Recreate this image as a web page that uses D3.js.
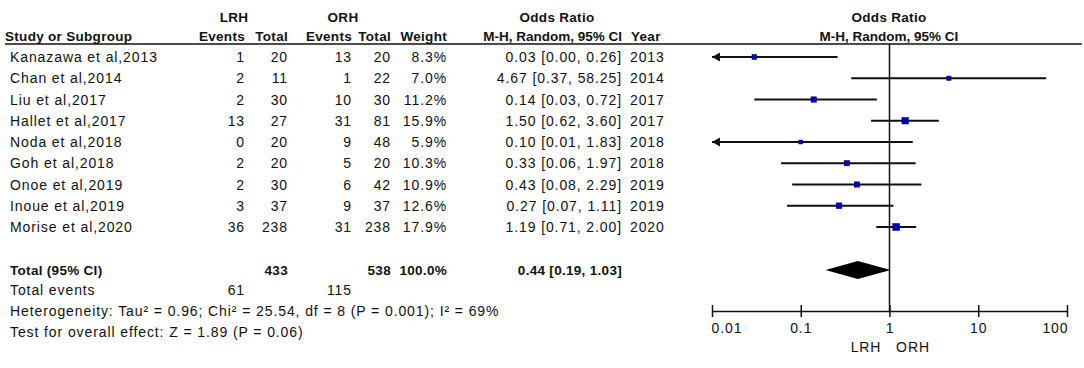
<!DOCTYPE html>
<html><head><meta charset="utf-8">
<script src="https://cdn.jsdelivr.net/npm/d3@7"></script>
<style>
body{margin:0;background:#fff;}
text{font-family:"Liberation Sans",Arial,sans-serif;font-size:14px;fill:#111;}
.b{font-weight:bold;font-size:13.5px;letter-spacing:0.3px;}
.bn{font-weight:bold;font-size:13.5px;letter-spacing:0px;}
.r{letter-spacing:0.9px;}
</style></head><body>
<svg id="c" width="1084" height="368"></svg>
<script>
const studies=["Kanazawa et al,2013","Chan et al,2014","Liu et al,2017","Hallet et al,2017","Noda et al,2018","Goh et al,2018","Onoe et al,2019","Inoue et al,2019","Morise et al,2020"];
const lrhEvents=[1,2,2,13,0,2,2,3,36];
const lrhTotal=[20,11,30,27,20,20,30,37,238];
const orhEvents=[13,1,10,31,9,5,6,9,31];
const orhTotal=[20,22,30,81,48,20,42,37,238];
const weights=[8.3,7.0,11.2,15.9,5.9,10.3,10.9,12.6,17.9];
const orVal=[0.03,4.67,0.14,1.50,0.10,0.33,0.43,0.27,1.19];
const ciLow=[0.00,0.37,0.03,0.62,0.01,0.06,0.08,0.07,0.71];
const ciHigh=[0.26,58.25,0.72,3.60,1.83,1.97,2.29,1.11,2.00];
const years=[2013,2014,2017,2017,2018,2018,2019,2019,2020];
const total={lrhTotal:433,orhTotal:538,weight:"100.0%",or:0.44,lo:0.19,hi:1.03,lrhEvents:61,orhEvents:115};
const ticks=[0.01,0.1,1,10,100];
const tickLabels=["0.01","0.1","1","10","100"];
const footLines=["Heterogeneity: Tau\u00b2 = 0.96; Chi\u00b2 = 25.54, df = 8 (P = 0.001); I\u00b2 = 69%","Test for overall effect: Z = 1.89 (P = 0.06)"];

const svg=d3.select("#c");
const x=d3.scaleLog().domain([0.01,100]).range([712,1067]);
const y=d3.scaleLinear().domain([0,8]).range([57,227]);
const f2=d3.format(".2f"), f1=d3.format(".1f");
const off=5;

function t(xp,yp,s,anchor,cls){return svg.append("text").attr("x",xp).attr("y",yp).attr("text-anchor",anchor||"start").attr("class",cls||"").text(s);}
t(234,22,"LRH","middle","b");
t(343,22,"ORH","middle","b");
t(557,22,"Odds Ratio","middle","b");
t(889,22,"Odds Ratio","middle","b");
t(5,41,"Study or Subgroup","start","b");
t(245,41,"Events","end","b");
t(288,41,"Total","end","b");
t(352,41,"Events","end","b");
t(391,41,"Total","end","b");
t(447,41,"Weight","end","b");
t(622,41,"M-H, Random, 95% CI","end","bn");
t(631,41,"Year","start","b");
t(889,41,"M-H, Random, 95% CI","middle","bn");
svg.append("line").attr("x1",5).attr("x2",1082).attr("y1",44).attr("y2",44).attr("stroke","#111").attr("stroke-width",1.5);

studies.forEach((s,i)=>{
  const yy=y(i)+off;
  t(10,yy,s,"start","r");
  t(245,yy,lrhEvents[i],"end","r");
  t(288,yy,lrhTotal[i],"end","r");
  t(352,yy,orhEvents[i],"end","r");
  t(391,yy,orhTotal[i],"end","r");
  t(447,yy,f1(weights[i])+"%","end","r");
  t(622,yy,`${f2(orVal[i])} [${f2(ciLow[i])}, ${f2(ciHigh[i])}]`,"end","r");
  t(630,yy,years[i],"start","r");
});

const ty=270+off;
t(10,ty,"Total (95% CI)","start","b");
t(288,ty,total.lrhTotal,"end","b");
t(391,ty,total.orhTotal,"end","b");
t(447,ty,total.weight,"end","b");
t(622,ty,`${f2(total.or)} [${f2(total.lo)}, ${f2(total.hi)}]`,"end","b");
t(10,290+off,"Total events","start","r");
t(245,290+off,total.lrhEvents,"end","r");
t(352,290+off,total.orhEvents,"end","r");
t(10,311+off,footLines[0],"start","r");
t(10,332+off,footLines[1],"start","r");

const [dmin,dmax]=x.domain();
svg.append("line").attr("x1",x(1)).attr("x2",x(1)).attr("y1",44).attr("y2",311).attr("stroke","#111").attr("stroke-width",1.5);
const g=svg.append("g");
studies.forEach((s,i)=>{
  const lo=Math.max(ciLow[i],dmin), hi=Math.min(ciHigh[i],dmax);
  const yy=y(i);
  g.append("line").attr("x1",x(lo)).attr("x2",x(hi)).attr("y1",yy).attr("y2",yy).attr("stroke","#111").attr("stroke-width",1.8);
  if(ciLow[i]<=dmin){
    const x0=x(dmin);
    g.append("path").attr("d",`M${x0},${yy} l8,-4.5 l0,9 z`).attr("fill","#111");
  }
  const sz=1.6*Math.sqrt(weights[i]);
  g.append("rect").attr("x",x(orVal[i])-sz/2).attr("y",yy-sz/2).attr("width",sz).attr("height",sz).attr("fill","#0000c8").attr("stroke","#000060").attr("stroke-width",0.6);
});
g.append("path").attr("d",`M${x(total.lo)},270 L${x(total.or)},261 L${x(total.hi)},270 L${x(total.or)},279 Z`).attr("fill","#000");

const axisY=311;
const ax=svg.append("g").attr("transform",`translate(0,${axisY})`);
ax.call(d3.axisBottom(x).tickValues(ticks).tickFormat((d,i)=>tickLabels[i]).tickSizeOuter(0).tickSizeInner(6));
ax.select(".domain").attr("stroke","#111").attr("stroke-width",1.5);
ax.selectAll(".tick line").attr("y1",-6).attr("y2",6).attr("stroke","#111").attr("stroke-width",1.5);
ax.selectAll(".tick text").attr("y",12).attr("font-size",14).attr("font-family","Liberation Sans, Arial, sans-serif").attr("fill","#111").attr("class","r");
ax.selectAll(".tick text").filter((d,i)=>i===0).attr("text-anchor","start").attr("dx",-1);
ax.selectAll(".tick text").filter((d,i)=>i===ticks.length-1).attr("text-anchor","end").attr("dx",1);
t(866,352,"LRH","middle","r");
t(913,352,"ORH","middle","r");
</script></body></html>
